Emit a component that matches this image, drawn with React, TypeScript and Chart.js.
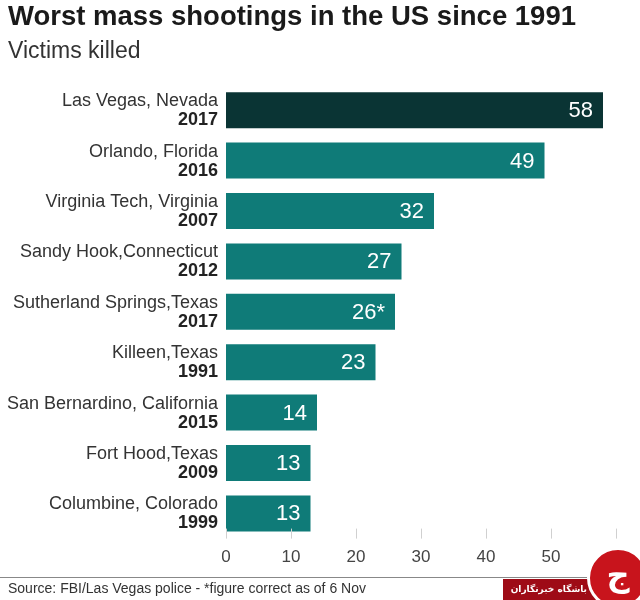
import React, { useEffect, useRef } from "react";
import { Chart, registerables } from "chart.js";

Chart.register(...registerables);

const places = [
  "Las Vegas, Nevada",
  "Orlando, Florida",
  "Virginia Tech, Virginia",
  "Sandy Hook,Connecticut",
  "Sutherland Springs,Texas",
  "Killeen,Texas",
  "San Bernardino, California",
  "Fort Hood,Texas",
  "Columbine, Colorado",
];
const years = ["2017", "2016", "2007", "2012", "2017", "1991", "2015", "2009", "1999"];
const victims = [58, 49, 32, 27, 26, 23, 14, 13, 13];
const valueLabels = ["58", "49", "32", "27", "26*", "23", "14", "13", "13"];
const xTicks = [0, 10, 20, 30, 40, 50, 60];

const TITLE = "Worst mass shootings in the US since 1991";
const SUBTITLE = "Victims killed";
const SOURCE = "Source: FBI/Las Vegas police - *figure correct as of 6 Nov";
const FONT = "'Liberation Sans', Arial, Helvetica, sans-serif";

const decorPlugin = {
  id: "decor",
  afterDraw(chart: any) {
    const ctx = chart.ctx;
    const yScale = chart.scales.y;
    const xScale = chart.scales.x;
    const area = chart.chartArea;
    ctx.save();
    // title & subtitle
    ctx.textAlign = "left";
    ctx.textBaseline = "alphabetic";
    ctx.fillStyle = "#1a1a1a";
    ctx.font = `bold 27.5px ${FONT}`;
    ctx.fillText(TITLE, 8, 25);
    ctx.fillStyle = "#333";
    ctx.font = `23px ${FONT}`;
    ctx.fillText(SUBTITLE, 8, 58);

    // category labels
    ctx.textAlign = "right";
    ctx.textBaseline = "middle";
    places.forEach((p, i) => {
      const y = yScale.getPixelForValue(i);
      ctx.fillStyle = "#333";
      ctx.font = `18px ${FONT}`;
      ctx.fillText(p, 218, y - 9);
      ctx.fillStyle = "#222";
      ctx.font = `bold 18px ${FONT}`;
      ctx.fillText(years[i], 218, y + 10);
    });

    // value labels
    ctx.fillStyle = "#ffffff";
    ctx.font = `22px ${FONT}`;
    ctx.textAlign = "right";
    victims.forEach((v, i) => {
      const x = xScale.getPixelForValue(v);
      const y = yScale.getPixelForValue(i);
      ctx.fillText(valueLabels[i], x - 10, y + 1);
    });

    // tick marks
    ctx.strokeStyle = "#d0d0d0";
    ctx.lineWidth = 1;
    xTicks.forEach((t) => {
      const x = Math.round(xScale.getPixelForValue(t)) + 0.5;
      ctx.beginPath();
      ctx.moveTo(x, area.bottom - 10);
      ctx.lineTo(x, area.bottom);
      ctx.stroke();
    });

    // footer
    ctx.strokeStyle = "#888";
    ctx.beginPath();
    ctx.moveTo(0, 577.5);
    ctx.lineTo(640, 577.5);
    ctx.stroke();
    ctx.fillStyle = "#333";
    ctx.font = `14px ${FONT}`;
    ctx.textAlign = "left";
    ctx.textBaseline = "alphabetic";
    ctx.fillText(SOURCE, 8, 593);
    ctx.restore();
  },
};

export default function App() {
  const ref = useRef<HTMLCanvasElement>(null);
  useEffect(() => {
    if (!ref.current) return;
    const chart = new Chart(ref.current, {
      type: "bar",
      data: {
        labels: places,
        datasets: [
          {
            data: victims,
            backgroundColor: victims.map((_, i) => (i === 0 ? "#0a3434" : "#0f7b78")),
            borderWidth: 0,
            categoryPercentage: 1,
            barPercentage: 0.714,
          },
        ],
      },
      plugins: [decorPlugin],
      options: {
        indexAxis: "y",
        animation: false,
        responsive: false,
        maintainAspectRatio: false,
        layout: { padding: { left: 226, right: 24, top: 85, bottom: 23 } },
        plugins: {
          legend: { display: false },
          tooltip: { enabled: false },
          title: { display: false },
        },
        scales: {
          y: { display: false },
          x: {
            min: 0,
            max: 60,
            grid: { display: false, drawTicks: false },
            border: { display: false },
            ticks: {
              stepSize: 10,
              padding: 9,
              color: "#444",
              font: { family: FONT, size: 17 },
            },
          },
        },
      },
    });
    return () => chart.destroy();
  }, []);
  return (
    <div style={{ position: "absolute", left: 0, top: 0, width: 640, height: 600, background: "#fff", overflow: "hidden" }}>
      <canvas ref={ref} width={640} height={600} style={{ display: "block" }} />
      <div
        style={{
          position: "absolute",
          left: 503,
          top: 579,
          width: 127,
          height: 21,
          background: "#9e0b16",
        }}
      />
      <div
        dir="rtl"
        style={{
          position: "absolute",
          left: 515,
          top: 579,
          width: 72,
          height: 21,
          color: "#fff",
          fontFamily: "'DejaVu Sans', sans-serif",
          fontWeight: "bold",
          fontSize: 9,
          lineHeight: "21px",
          textAlign: "center",
          whiteSpace: "nowrap",
        }}
      >
        باشگاه خبرنگاران
      </div>
      <div
        style={{
          position: "absolute",
          left: 587,
          top: 547,
          width: 62,
          height: 62,
          borderRadius: "50%",
          background: "#c8141c",
          border: "3px solid #fff",
          boxSizing: "border-box",
          color: "#fff",
          fontFamily: "'DejaVu Sans', sans-serif",
          fontSize: 32,
          fontWeight: "bold",
          textAlign: "center",
          lineHeight: "50px",
        }}
      >
        ج
      </div>
    </div>
  );
}
